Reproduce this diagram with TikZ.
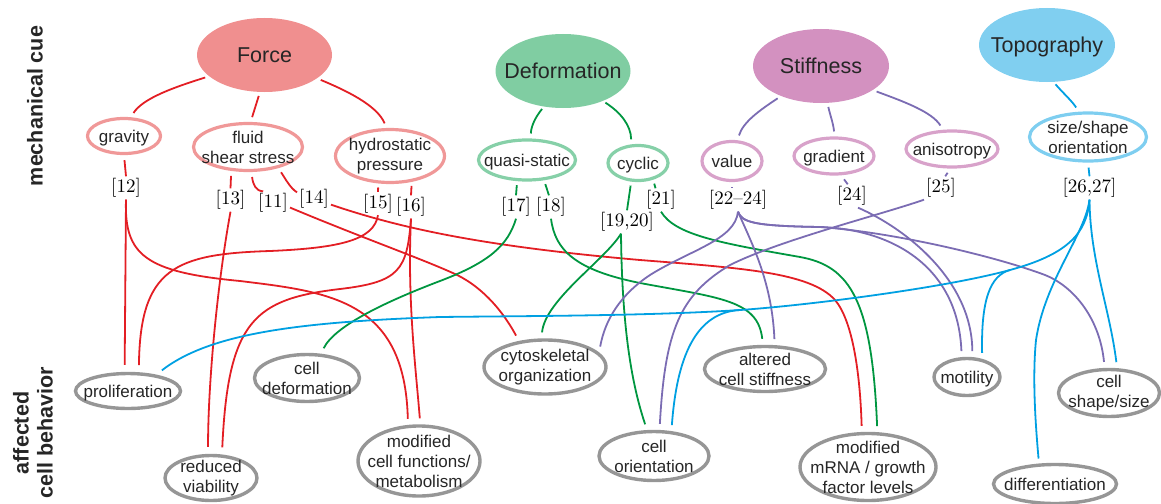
\documentclass[tikz,border=0pt]{standalone}
\usepackage{fontspec}
\newfontfamily\arialf{Liberation Sans}
\newfontfamily\reffont[Extension=.otf, Ligatures=TeX]{lmroman10-regular}
\usetikzlibrary{shapes.geometric}
\definecolor{forcefill}{HTML}{F08F8F}
\definecolor{forceline}{HTML}{F09898}
\definecolor{defofill}{HTML}{80CDA2}
\definecolor{defoline}{HTML}{86D0A8}
\definecolor{stifffill}{HTML}{D391C0}
\definecolor{stiffline}{HTML}{D8A2CA}
\definecolor{topofill}{HTML}{80CFF0}
\definecolor{topoline}{HTML}{7ECEF0}
\definecolor{effline}{HTML}{969696}
\definecolor{lred}{HTML}{E31E24}
\definecolor{lgreen}{HTML}{009640}
\definecolor{lpurple}{HTML}{7B6CB3}
\definecolor{lblue}{HTML}{00A0E2}
\definecolor{txtcol}{HTML}{262626}
\newcommand{\enode}[7]{%
  \node[#5, minimum width=#3pt, minimum height=#4pt] (#1) at (#2) {};
  \node[#6] (#1-t) at (#1.center) {#7};}
\begin{document}
\begin{tikzpicture}[x=1pt, y=-1pt,
  big/.style={ellipse, draw=none, inner sep=0pt},
  sub/.style={ellipse, line width=3.2pt, fill=white, inner sep=0pt},
  eff/.style={ellipse, draw=effline, line width=3.4pt, fill=white, inner sep=0pt},
  txt/.style={font=\arialf\fontsize{17}{20}\selectfont, align=center, text=txtcol, inner sep=0pt},
  txta/.style={txt, text depth=0pt},
  cue/.style={font=\arialf\fontsize{21.5}{24}\selectfont, text=txtcol, inner sep=0pt, text depth=0pt},
  ref/.style={font=\reffont\fontsize{19}{22}\selectfont, text=black, inner sep=2pt},
  side/.style={font=\arialf\bfseries\fontsize{21.5}{24}\selectfont, text=txtcol, align=center, inner sep=0pt},
  cn/.style={line width=1.8pt},
  red/.style={cn, draw=lred}, grn/.style={cn, draw=lgreen},
  pur/.style={cn, draw=lpurple}, blu/.style={cn, draw=lblue}]
\useasboundingbox (0,0) rectangle (1161,503);

% side labels
\node[side, rotate=90] (mc) at (35,106) {mechanical cue};
\node[side, rotate=90] (acb) at (33,433) {affected\\cell behavior};

% cue nodes
\enode{force}{264.5,55}{135}{74}{big, fill=forcefill}{cue}{Force}
\enode{deform}{563,71}{135}{74}{big, fill=defofill}{cue}{Deformation}
\enode{stiff}{821,66}{136}{74}{big, fill=stifffill}{cue}{Stiffness}
\enode{topo}{1047,45}{136}{74}{big, fill=topofill}{cue}{Topography}

% sub nodes
\enode{gravity}{124,136}{73}{35}{sub, draw=forceline}{txta}{gravity}
\enode{fluid}{248,147}{109}{47}{sub, draw=forceline}{txt}{fluid\\shear stress}
\enode{hydro}{390,156}{109}{53}{sub, draw=forceline}{txt}{hydrostatic\\pressure}
\enode{quasi}{527,160}{97}{40}{sub, draw=defoline}{txta}{quasi-static}
\enode{cyclic}{638,163}{60}{35}{sub, draw=defoline}{txta}{cyclic}
\enode{value}{732,161}{60}{39}{sub, draw=stiffline}{txta}{value}
\enode{gradient}{834,156}{80}{36}{sub, draw=stiffline}{txta}{gradient}
\enode{aniso}{952,149}{92}{36}{sub, draw=stiffline}{txta}{anisotropy}
\enode{size}{1088,137}{117}{48}{sub, draw=topoline}{txt}{size/shape\\orientation}

% effect nodes
\enode{prolif}{128,391}{105}{35}{eff}{txta}{proliferation}
\enode{celldef}{307,378}{105}{47}{eff}{txt}{cell\\deformation}
\enode{reduced}{211,478}{92}{45}{eff}{txt}{reduced\\viability}
\enode{modfunc}{419,461}{122}{70}{eff}{txt}{modified\\cell functions/\\metabolism}
\enode{cyto}{545,367}{122}{54}{eff}{txt}{cytoskeletal\\organization}
\enode{orient}{654,456}{110}{49}{eff}{txt}{cell\\orientation}
\enode{altered}{765,369}{121}{45}{eff}{txt}{altered\\cell stiffness}
\enode{mrna}{868,467}{136}{67}{eff}{txt}{modified\\mRNA / growth\\factor levels}
\enode{motility}{967,377}{66}{37}{eff}{txta}{motility}
\enode{shape}{1109,393}{101}{47}{eff}{txt}{cell\\shape/size}
\enode{diff}{1055,484}{123}{39}{eff}{txta}{differentiation}

% reference labels
\node[ref] (r12) at (126,188) {[12]};
\node[ref] (r13) at (230.5,200) {[13]};
\node[ref] (r11) at (273,203) {[11]};
\node[ref] (r14) at (314,198.5) {[14]};
\node[ref] (r15) at (378,203.5) {[15]};
\node[ref] (r16) at (411,207) {[16]};
\node[ref] (r17) at (516,207) {[17]};
\node[ref] (r18) at (551,207) {[18]};
\node[ref] (r1920) at (627,222) {[19,20]};
\node[ref] (r21) at (661,200) {[21]};
\node[ref] (r2224) at (738,200) {[22–24]};
\node[ref] (r24) at (852,196) {[24]};
\node[ref] (r25) at (941,188) {[25]};
\node[ref] (r2627) at (1089.5,188) {[26,27]};

% cue -> sub
\draw[red, shorten <=4pt, shorten >=5pt] (force.201) .. controls (175,87) and (143,98) .. (gravity.70);
\draw[red, shorten <=4pt, shorten >=5pt] (force.263) -- (fluid.84);
\draw[red, shorten <=4pt, shorten >=5pt] (force.336) .. controls (345,90) and (377,105) .. (hydro.97);
\draw[grn, shorten <=3pt, shorten >=5pt] (deform.242) .. controls (537,115) and (531,125) .. (quasi.80);
\draw[grn, shorten <=3pt, shorten >=5pt] (deform.323) .. controls (620,112) and (631,125) .. (cyclic.110);
\draw[pur, shorten <=4pt, shorten >=5pt] (stiff.217) .. controls (760,110) and (743,122) .. (value.75);
\draw[pur, shorten <=4pt, shorten >=5pt] (stiff.280) .. controls (830,115) and (833,122) .. (gradient.88);
\draw[pur, shorten <=4pt, shorten >=5pt] (stiff.335) .. controls (905,102) and (932,112) .. (aniso.115);
\draw[blu, shorten <=3pt, shorten >=5pt] (topo.280) .. controls (1063,93) and (1072,101) .. (size.110);

% sub -> labels
\draw[red, shorten <=5pt] (gravity.south) -- (r12.north);
\draw[red, shorten <=5pt] (fluid.235) -- (r13.north);
\draw[red, shorten <=5pt] (fluid.278) .. controls (253,185) and (256,191) .. (r11.130);
\draw[red, shorten <=5pt] (fluid.325) .. controls (285,178) and (290,188) .. (r14.160);
\draw[red, shorten <=4pt] (hydro.247) -- (r15.north);
\draw[red, shorten <=4pt] (hydro.310) -- (r16.north);
\draw[grn, shorten <=4pt] (quasi.245) -- (r17.north);
\draw[grn, shorten <=4pt] (quasi.310) -- (r18.100);
\draw[grn, shorten <=4pt] (cyclic.250) -- (r1920.north);
\draw[grn, shorten <=4pt] (cyclic.312) -- (r21.115);
\draw[pur, shorten <=5pt, shorten >=1pt] (value.south) -- (value.south |- r2224.north);
\draw[pur, shorten <=5pt] (gradient.290) -- (r24.110);
\draw[pur, shorten <=5pt] (aniso.265) -- (r25.70);
\draw[blu, shorten <=5pt] (size.south) -- (r2627.north);

% Force references
\draw[red, shorten >=7pt] (r12.south) -- (prolif.100);
\draw[red, shorten >=6pt] (r12.south) .. controls (124,255) and (145,272) .. (240,281) .. controls (330,292) and (405,300) .. (modfunc.107);
\draw[red, shorten >=7pt] (r13.south) .. controls (218,280) and (208,380) .. (reduced.97);
\draw[red, shorten >=6pt] (r11.-15) .. controls (360,237) and (420,258) .. (455,274) .. controls (485,288) and (505,315) .. (cyto.135);
\draw[red, shorten >=6pt] (r14.-20) .. controls (400,228) and (480,246) .. (640,260) .. controls (740,268) and (810,272) .. (835,300) .. controls (852,320) and (860,370) .. (mrna.100);
\draw[red, shorten >=7pt] (r15.south) .. controls (374,240) and (340,248) .. (270,251) .. controls (175,254) and (140,268) .. (prolif.60);
\draw[red, shorten >=7pt] (r16.south) .. controls (407,270) and (400,282) .. (340,289) .. controls (255,299) and (228,320) .. (reduced.65);
\draw[red, shorten >=6pt] (r16.south) .. controls (407,300) and (416,370) .. (modfunc.88);

% Deformation references
\draw[grn, shorten >=6pt] (r17.south) .. controls (508,245) and (490,262) .. (440,281) .. controls (390,300) and (335,325) .. (celldef.60);
\draw[grn, shorten >=6pt] (r18.south) .. controls (555,250) and (575,270) .. (640,283) .. controls (720,298) and (758,300) .. (altered.95);
\draw[grn, shorten >=6pt] ([xshift=-6pt]r1920.south) .. controls (605,260) and (545,300) .. (cyto.97);
\draw[grn, shorten >=6pt] ([xshift=-6pt]r1920.south) .. controls (622,330) and (632,385) .. (orient.105);
\draw[grn, shorten >=6pt] (r21.south) .. controls (675,235) and (720,243) .. (800,257) .. controls (850,266) and (872,300) .. (mrna.75);

% Stiffness references
\draw[pur, shorten >=6pt] (r2224.south) .. controls (735,240) and (690,250) .. (650,275) .. controls (620,295) and (605,320) .. (cyto.15);
\draw[pur, shorten >=6pt] (r2224.south) .. controls (750,240) and (772,280) .. (altered.68);
\draw[pur, shorten >=6pt] (r2224.south) .. controls (742,222) and (752,226) .. (820,227) .. controls (890,229) and (958,265) .. (motility.105);
\draw[pur, shorten >=6pt] (r2224.south) .. controls (742,222) and (752,226) .. (820,227) .. controls (900,233) and (1000,258) .. (1045,275) .. controls (1075,287) and (1100,320) .. (shape.100);
\draw[pur, shorten >=6pt] ([xshift=6pt]r24.south) .. controls (905,228) and (972,280) .. (motility.75);
\draw[pur, shorten >=6pt] (r25.south west) .. controls (880,215) and (780,240) .. (730,265) .. controls (680,295) and (665,330) .. (orient.78);

% Topography references
\draw[blu, shorten >=7pt] (r2627.south) .. controls (1087,235) and (1065,255) .. (1010,270) coordinate (bm)
   .. controls (940,289) and (800,306) .. (740,310) coordinate (bo)
   .. controls (650,316) and (520,316) .. (440,317)
   .. controls (300,322) and (210,333) .. (prolif.30);
\draw[blu, shorten >=6pt] (bm) .. controls (990,275.5) and (981,300) .. (motility.50);
\draw[blu, shorten >=6pt] (bo) .. controls (705,312) and (678,340) .. (orient.55);
\draw[blu, shorten >=5pt] (r2627.south) .. controls (1085,235) and (1045,280) .. (1036,340) .. controls (1032,380) and (1036,430) .. (diff.128);
\draw[blu, shorten >=6pt] (r2627.south) .. controls (1090,260) and (1110,310) .. (shape.72);
\end{tikzpicture}
\end{document}
